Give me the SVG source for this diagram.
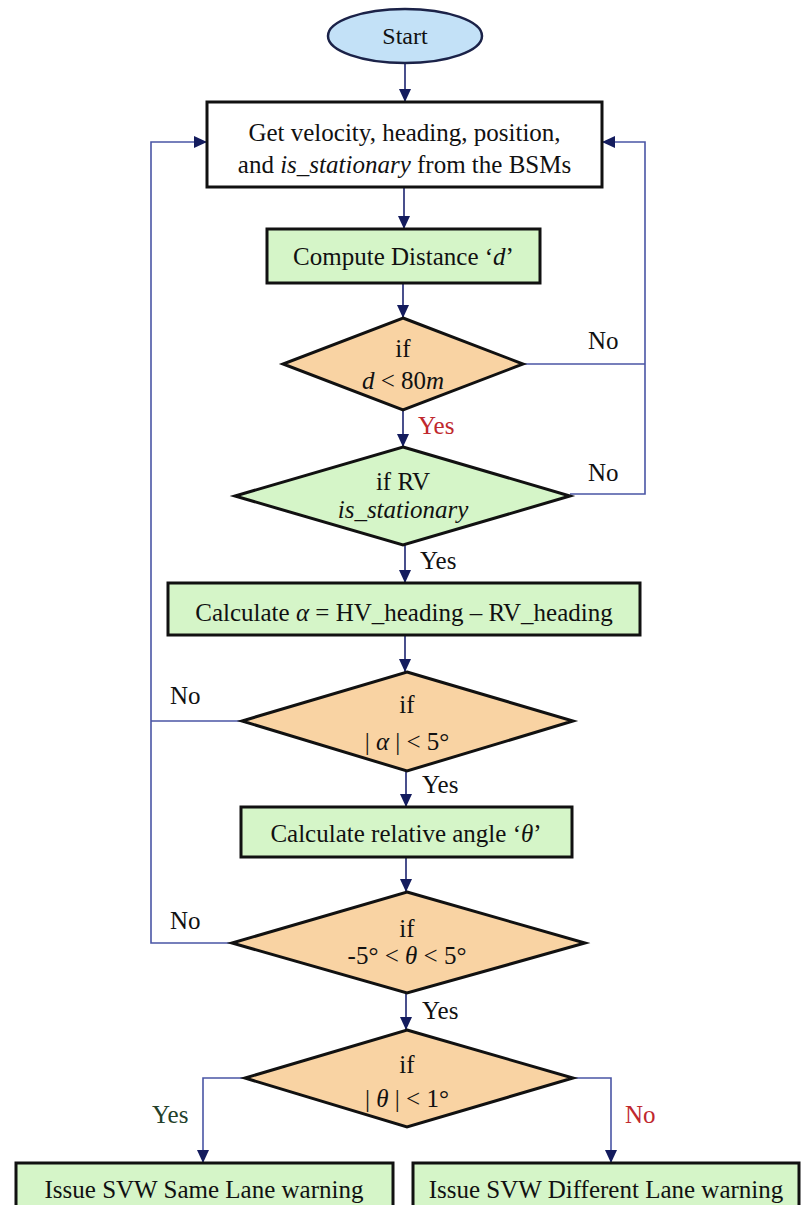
<svg xmlns="http://www.w3.org/2000/svg" width="802" height="1205" viewBox="0 0 802 1205" font-family="'Liberation Serif', 'DejaVu Serif', serif">
<style>
text{font-family:'Liberation Serif','DejaVu Serif',serif;font-size:25px;fill:#111;text-anchor:middle}
.lbl{text-anchor:start}
.red{fill:#c0282d}
.grn{fill:#23402a}
.box{fill:#d5f5c8;stroke:#111;stroke-width:3}
.dia{fill:#f9d3a3;stroke:#111;stroke-width:3}
.diag{fill:#d5f5c8;stroke:#111;stroke-width:3}
.main{fill:none;stroke:#1c2470;stroke-width:1.6}
.loop{fill:none;stroke:#4a55a5;stroke-width:1.6}
.it{font-style:italic}
</style>
<defs>
<marker id="ah" markerUnits="userSpaceOnUse" markerWidth="14" markerHeight="14" viewBox="0 0 14 14" refX="13" refY="7" orient="auto">
<path d="M0,1 L13,7 L0,13 Z" fill="#141c5e"/>
</marker>
</defs>
<rect width="802" height="1205" fill="#ffffff"/>
<g id="connectors">
<line class="main" x1="405" y1="63" x2="405" y2="102" marker-end="url(#ah)"/>
<line class="main" x1="404" y1="187" x2="404" y2="229" marker-end="url(#ah)"/>
<line class="main" x1="403" y1="283" x2="403" y2="318" marker-end="url(#ah)"/>
<line class="main" x1="403" y1="410" x2="403" y2="447" marker-end="url(#ah)"/>
<line class="main" x1="405" y1="545" x2="405" y2="583" marker-end="url(#ah)"/>
<line class="main" x1="405" y1="635" x2="405" y2="672" marker-end="url(#ah)"/>
<line class="main" x1="406" y1="771" x2="406" y2="807" marker-end="url(#ah)"/>
<line class="main" x1="406" y1="857" x2="406" y2="892" marker-end="url(#ah)"/>
<line class="main" x1="406" y1="993" x2="406" y2="1030" marker-end="url(#ah)"/>
<line class="loop" x1="523" y1="364" x2="645" y2="364"/>
<polyline class="loop" points="570,494 645,494 645,142 602,142" marker-end="url(#ah)"/>
<line class="loop" x1="242" y1="721" x2="151" y2="721"/>
<polyline class="loop" points="232,943 151,943 151,142 207,142" marker-end="url(#ah)"/>
<polyline class="loop" points="245,1078 203,1078 203,1163" marker-end="url(#ah)"/>
<polyline class="loop" points="573,1078 611,1078 611,1163" marker-end="url(#ah)"/>
<text class="lbl" x="588" y="349">No</text>
<text class="lbl red" x="418" y="434">Yes</text>
<text class="lbl" x="588" y="481">No</text>
<text class="lbl" x="420" y="569">Yes</text>
<text class="lbl" x="170" y="704">No</text>
<text class="lbl" x="422" y="793">Yes</text>
<text class="lbl" x="170" y="929">No</text>
<text class="lbl" x="422" y="1019">Yes</text>
<text class="lbl grn" x="152" y="1123">Yes</text>
<text class="lbl red" x="625" y="1123">No</text>
</g>
<g id="start">
<ellipse cx="405" cy="36" rx="77" ry="27" fill="#c3e1f7" stroke="#1b2248" stroke-width="2.5"/>
<text x="405" y="44" style="font-size:24px">Start</text>
</g>
<g id="get-bsm">
<rect x="207" y="102" width="395" height="85" fill="#ffffff" stroke="#111" stroke-width="3"/>
<text x="404.5" y="141">Get velocity, heading, position,</text>
<text x="404.5" y="173">and <tspan class="it">is_stationary</tspan> from the BSMs</text>
</g>
<g id="compute-d">
<rect class="box" x="267" y="229" width="273" height="54"/>
<text x="403.5" y="265">Compute Distance ‘<tspan class="it">d</tspan>’</text>
</g>
<g id="if-d">
<polygon class="dia" points="403,318 523,364 403,410 283,364"/>
<text x="403" y="357">if</text>
<text x="403" y="389"><tspan class="it">d</tspan> &lt; 80<tspan class="it">m</tspan></text>
</g>
<g id="if-stationary">
<polygon class="diag" points="403,447 570,496 403,545 235,496"/>
<text x="403" y="490">if RV</text>
<text x="403" y="518" class="it">is_stationary</text>
</g>
<g id="calc-alpha">
<rect class="box" x="168" y="583" width="472" height="52"/>
<text x="404" y="621">Calculate <tspan class="it">α</tspan> = HV_heading – RV_heading</text>
</g>
<g id="if-alpha">
<polygon class="dia" points="407,672 573,721 407,771 242,721"/>
<text x="407" y="713">if</text>
<text x="407" y="750">| <tspan class="it">α</tspan> | &lt; 5°</text>
</g>
<g id="calc-theta">
<rect class="box" x="241" y="807" width="331" height="50"/>
<text x="406" y="842">Calculate relative angle ‘<tspan class="it">θ</tspan>’</text>
</g>
<g id="if-theta-range">
<polygon class="dia" points="407,892 585,943 407,993 232,943"/>
<text x="407" y="937">if</text>
<text x="407" y="964">-5° &lt; <tspan class="it">θ</tspan> &lt; 5°</text>
</g>
<g id="if-theta-1">
<polygon class="dia" points="407,1030 573,1078 407,1127 245,1078"/>
<text x="407" y="1073">if</text>
<text x="407" y="1107">| <tspan class="it">θ</tspan> | &lt; 1°</text>
</g>
<g id="same-lane">
<rect class="box" x="16" y="1163" width="377" height="60"/>
<text x="204" y="1198">Issue SVW Same Lane warning</text>
</g>
<g id="different-lane">
<rect class="box" x="413" y="1163" width="386" height="60"/>
<text x="606" y="1198">Issue SVW Different Lane warning</text>
</g>
</svg>
